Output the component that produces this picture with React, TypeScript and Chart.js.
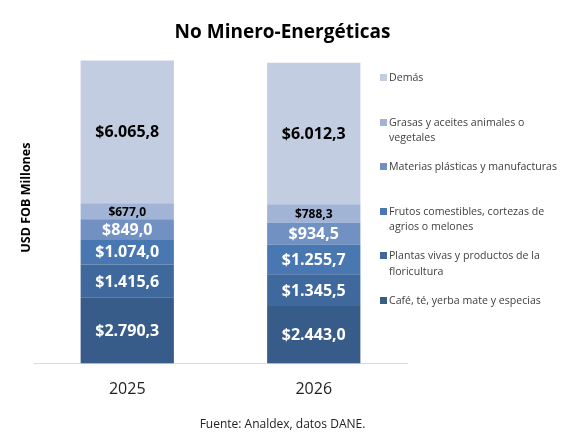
import { useEffect, useRef } from "react";
import { Chart, registerables } from "chart.js";

Chart.register(...registerables);

// Categories and series (USD FOB millones)
const years = ["2025", "2026"];
const seriesLabels = [
  ["Café, té, yerba mate y especias"],
  ["Plantas vivas y productos de la", "floricultura"],
  ["Frutos comestibles, cortezas de", "agrios o melones"],
  ["Materias plásticas y manufacturas"],
  ["Grasas y aceites animales o", "vegetales"],
  ["Demás"],
];
const cafe = [2790.3, 2443.0];
const plantas = [1415.6, 1345.5];
const frutos = [1074.0, 1255.7];
const materias = [849.0, 934.5];
const grasas = [677.0, 788.3];
const demas = [6065.8, 6012.3];
const seriesValues = [cafe, plantas, frutos, materias, grasas, demas];

const colors = ["#385C89", "#3F699D", "#4977B2", "#7291C3", "#A2B4D6", "#C3CDE1"];
const labelStyles = [
  { color: "#ffffff", size: 16 },
  { color: "#ffffff", size: 16 },
  { color: "#ffffff", size: 16 },
  { color: "#ffffff", size: 16 },
  { color: "#000000", size: 12 },
  { color: "#000000", size: 16 },
];

const FONT = "'Open Sans', sans-serif";

function fmt(v: number) {
  const [int, dec] = v.toFixed(1).split(".");
  return "$" + int.replace(/\B(?=(\d{3})+(?!\d))/g, ".") + "," + dec;
}

// draws the value inside each stacked segment
const segmentLabels = {
  id: "segmentLabels",
  afterDatasetsDraw(chart: any) {
    const { ctx } = chart;
    chart.data.datasets.forEach((ds: any, i: number) => {
      const meta = chart.getDatasetMeta(i);
      const style = labelStyles[i];
      meta.data.forEach((bar: any, j: number) => {
        const { x, y, base } = bar.getProps(["x", "y", "base"], true);
        ctx.save();
        ctx.font = `bold ${style.size}px ${FONT}`;
        ctx.fillStyle = style.color;
        ctx.textAlign = "center";
        ctx.textBaseline = "middle";
        ctx.fillText(fmt(ds.data[j]), x, (y + base) / 2 + 1);
        ctx.restore();
      });
    });
  },
};

// vertical axis title, sits a bit above the plot's centre like the original
const yTitle = {
  id: "yTitle",
  afterDraw(chart: any) {
    const { ctx, chartArea } = chart;
    ctx.save();
    ctx.translate(chartArea.left - 8, (chartArea.top + chartArea.bottom) / 2 - 14);
    ctx.rotate(-Math.PI / 2);
    ctx.font = `bold 12.5px ${FONT}`;
    ctx.fillStyle = "#000";
    ctx.textAlign = "center";
    ctx.textBaseline = "middle";
    ctx.fillText("USD FOB Millones", 0, 0);
    ctx.restore();
  },
};

export default function App() {
  const chartRef = useRef<HTMLCanvasElement | null>(null);

  useEffect(() => {
    if (!chartRef.current) return;
    const ctx = chartRef.current.getContext("2d");
    if (!ctx) return;

    const chart = new Chart(ctx, {
      type: "bar",
      data: {
        labels: years,
        datasets: seriesValues.map((data, i) => ({
          label: seriesLabels[i].join(" "),
          data,
          backgroundColor: colors[i],
          borderWidth: 0,
          categoryPercentage: 1,
          barPercentage: 0.5,
        })),
      },
      options: {
        animation: false,
        responsive: true,
        maintainAspectRatio: false,
        layout: { padding: 0 },
        plugins: {
          legend: { display: false },
          tooltip: { enabled: false },
          title: {
            display: true,
            text: "No Minero-Energéticas",
            color: "#000",
            font: { family: FONT, size: 19, weight: "bold" },
            padding: { top: 21, bottom: 16 },
          },
          subtitle: {
            display: true,
            position: "bottom",
            text: "Fuente: Analdex, datos DANE.",
            color: "#222",
            font: { family: FONT, size: 12 },
            padding: { top: 3, bottom: 4 },
          },
        },
        scales: {
          x: {
            stacked: true,
            grid: { display: false, drawTicks: false },
            border: { display: true, color: "#d9d9d9", width: 1 },
            ticks: { color: "#222", font: { family: FONT, size: 16 }, padding: 16 },
          },
          y: {
            stacked: true,
            min: 0,
            max: 12900,
            grid: { display: false, drawTicks: false },
            border: { display: false },
            ticks: { display: false },
            afterFit(scale: any) {
              scale.width = 34;
            },
          },
          // empty axis on the right to reserve room for the legend
          side: {
            type: "linear",
            position: "right",
            grid: { display: false, drawTicks: false },
            border: { display: false },
            ticks: { display: false },
            afterFit(scale: any) {
              scale.width = 158;
            },
          },
        },
      },
      plugins: [segmentLabels, yTitle],
    });

    return () => {
      chart.destroy();
    };
  }, []);

  const legendItems = seriesLabels.map((lines, i) => ({ lines, color: colors[i] })).reverse();

  return (
    <div style={{ position: "fixed", left: 0, top: 0, width: 565, height: 436, background: "#fff" }}>
      <canvas ref={chartRef}></canvas>
      {legendItems.map((item, k) => (
        <div
          key={k}
          style={{
            position: "absolute",
            left: 380,
            top: 78 + k * 44.6 - 8,
            fontFamily: FONT,
            fontSize: 10.6,
            lineHeight: "15.5px",
            color: "#404040",
            whiteSpace: "nowrap",
          }}
        >
          <span
            style={{
              position: "absolute",
              left: 0,
              top: 4,
              width: 7,
              height: 7,
              background: item.color,
            }}
          ></span>
          <div style={{ marginLeft: 9 }}>
            {item.lines.map((l, m) => (
              <div key={m}>{l}</div>
            ))}
          </div>
        </div>
      ))}
    </div>
  );
}
